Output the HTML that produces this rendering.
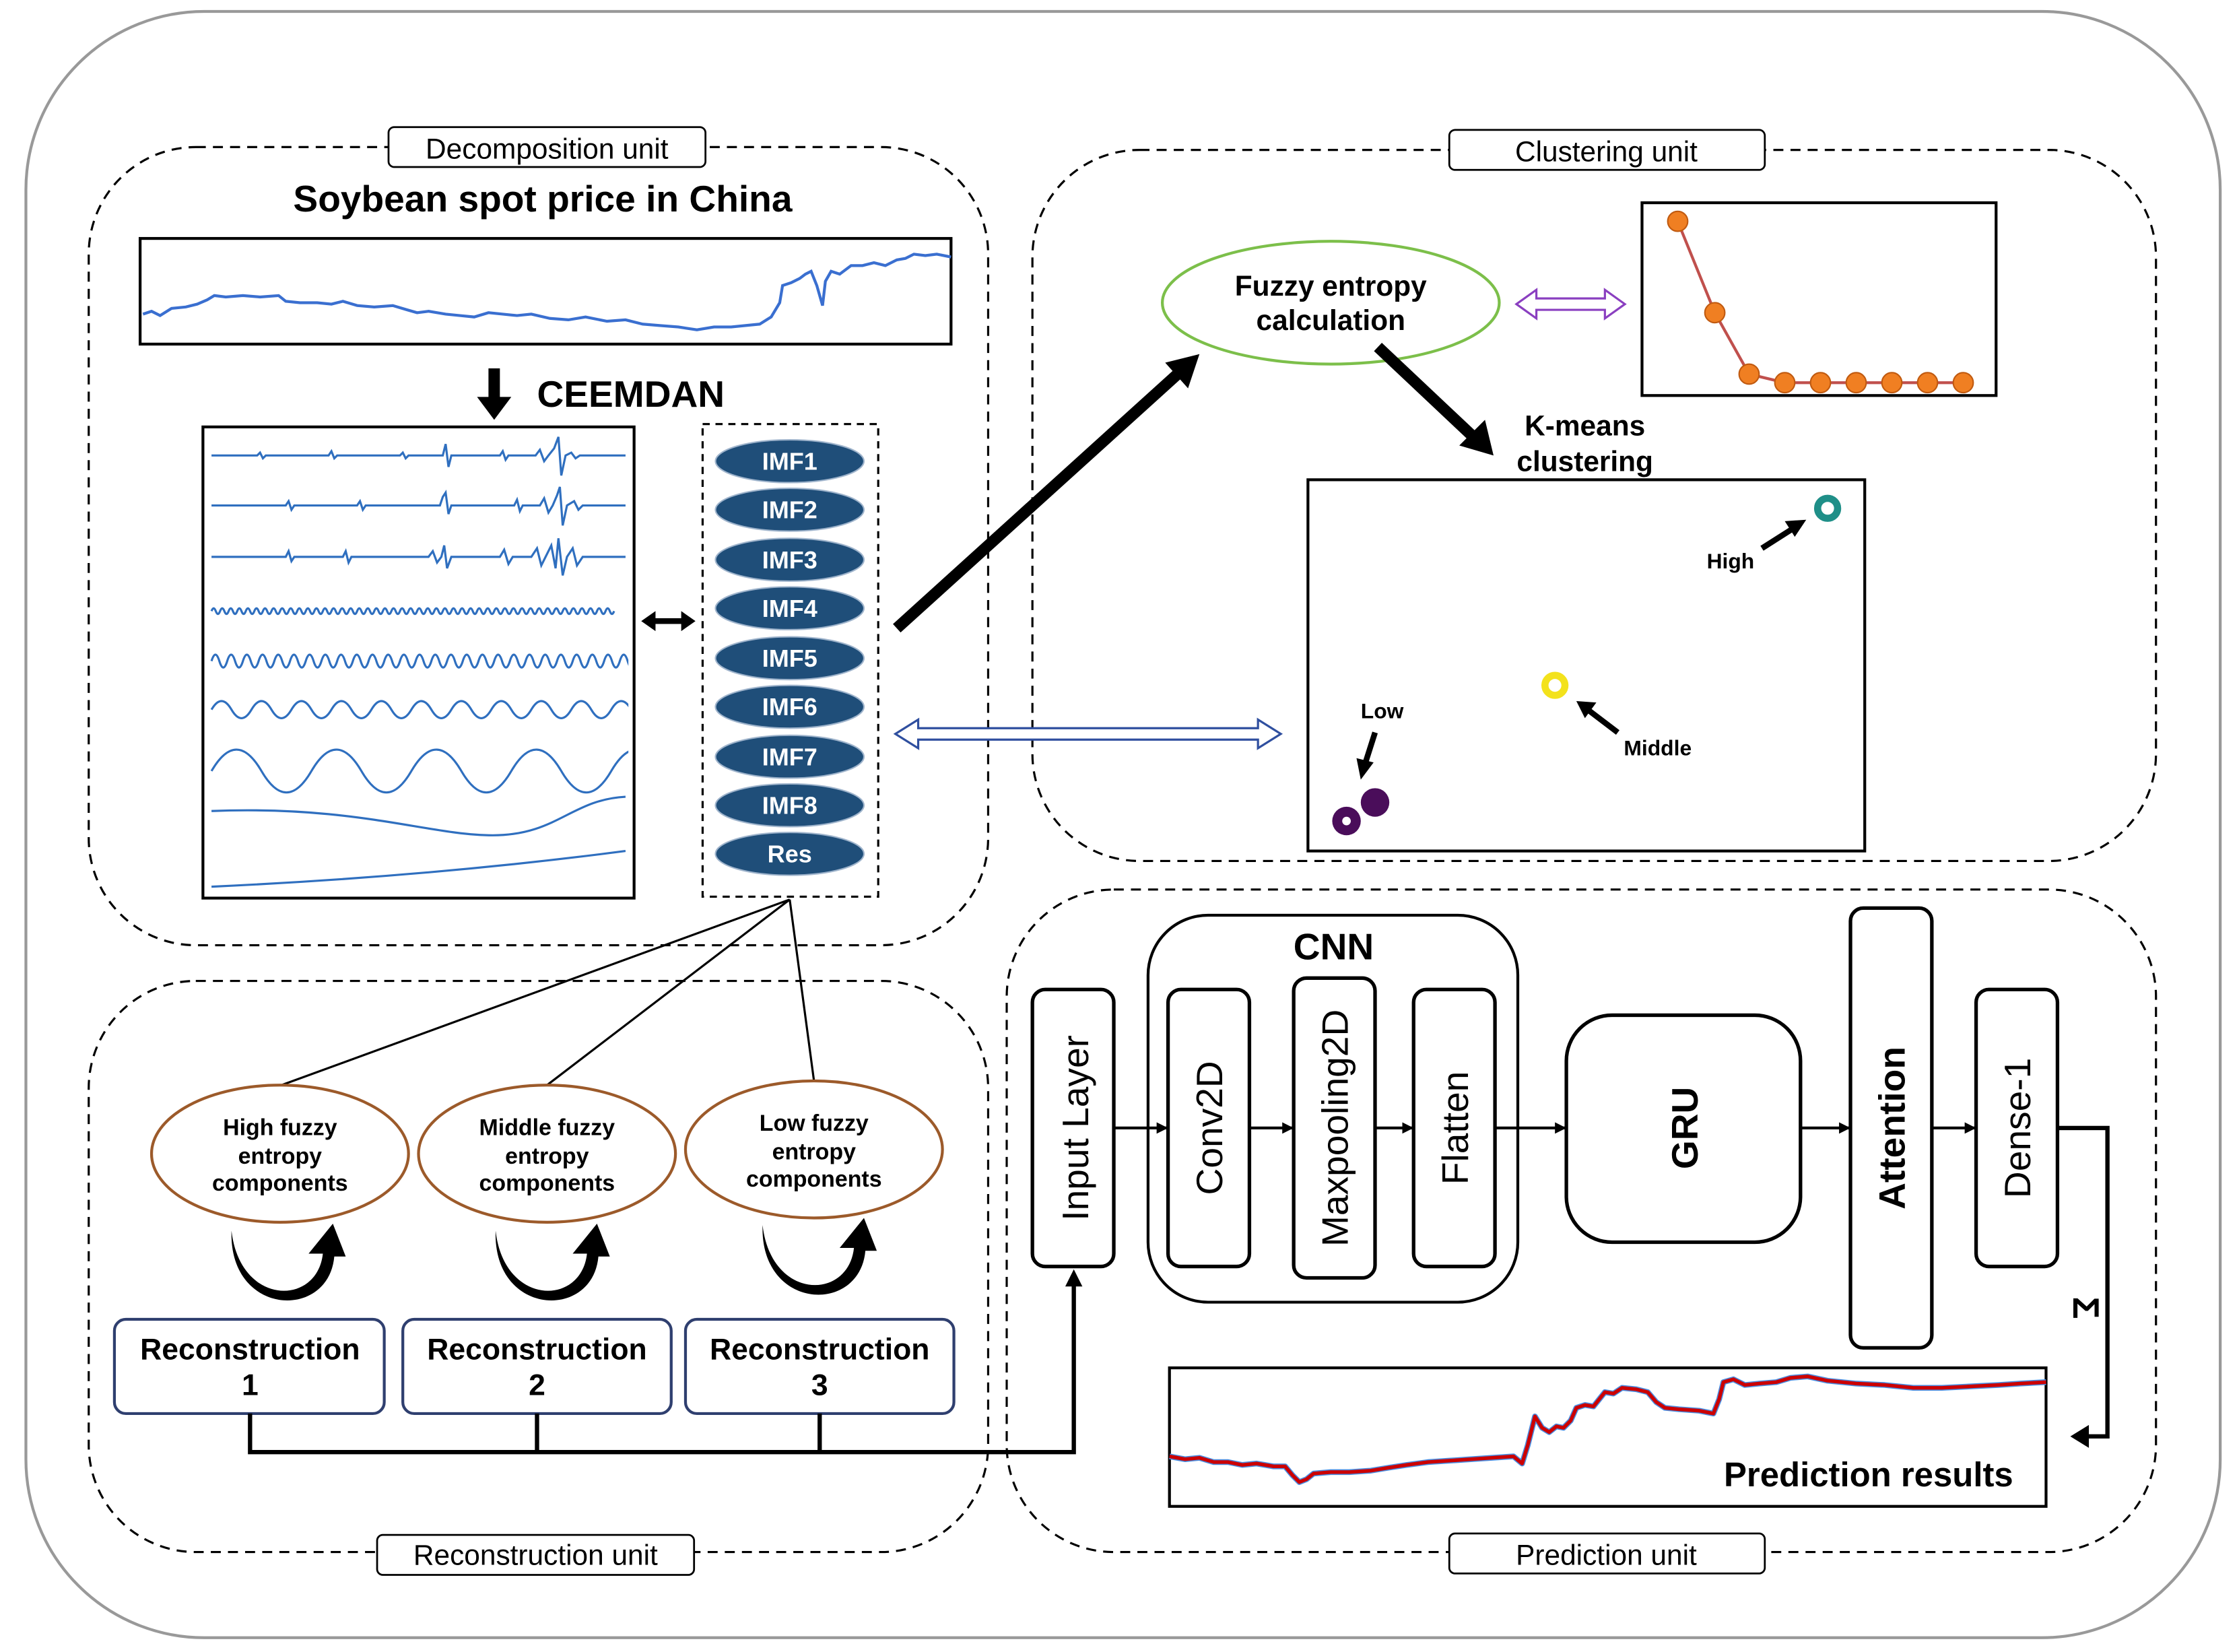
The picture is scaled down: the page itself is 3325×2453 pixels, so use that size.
<!DOCTYPE html>
<html><head><meta charset="utf-8"><style>
html,body{margin:0;padding:0;background:#fff;}
svg{display:block;}
text{font-family:"Liberation Sans","DejaVu Sans",sans-serif;}
</style></head><body>
<svg width="3325" height="2453" viewBox="0 0 1568 1157" xmlns="http://www.w3.org/2000/svg">
<defs>
<marker id="ah" markerWidth="8" markerHeight="8" refX="7" refY="4" orient="auto" markerUnits="userSpaceOnUse"><path d="M0,0 L8,4 L0,8 z" fill="#000"/></marker>
<clipPath id="ic"><rect x="146" y="300" width="294" height="328"/></clipPath>
</defs>
<rect x="18" y="8" width="1537" height="1139" rx="125" fill="#fff" stroke="#999" stroke-width="2"/>

<g fill="none" stroke="#000" stroke-width="1.5" stroke-dasharray="7,5">
<rect x="62" y="103" width="630" height="559" rx="75"/>
<rect x="723" y="105" width="787" height="498" rx="75"/>
<rect x="62" y="687" width="630" height="400" rx="75"/>
<rect x="705" y="623" width="805" height="464" rx="75"/>
</g>
<g stroke="#000" stroke-width="1.3" fill="#fff">
<rect x="272" y="89" width="222" height="28" rx="4"/>
<rect x="1015" y="91" width="221" height="28" rx="4"/>
<rect x="264" y="1075" width="222" height="28" rx="4"/>
<rect x="1015" y="1074" width="221" height="28" rx="4"/>
</g>
<g font-size="20" text-anchor="middle">
<text x="383" y="111">Decomposition unit</text>
<text x="1125" y="113">Clustering unit</text>
<text x="375" y="1096">Reconstruction unit</text>
<text x="1125" y="1096">Prediction unit</text>
</g>

<!-- decomposition -->
<text x="380" y="148" font-size="26" font-weight="bold" text-anchor="middle">Soybean spot price in China</text>
<rect x="98" y="167" width="568" height="74" fill="#fff" stroke="#000" stroke-width="2"/>
<polyline fill="none" stroke="#3a6fd0" stroke-width="2" points="100,220 106,218 112,221 120,216 130,215 138,213 145,210 150,207 158,208 170,207 182,208 195,207 200,211 210,212 222,212 232,213 240,211 250,214 262,215 275,214 285,217 292,219 300,218 312,220 322,221 332,222 342,219 352,220 362,221 372,220 385,223 398,224 410,222 425,225 438,224 450,227 462,228 475,229 488,231 500,229 512,229 522,228 532,227 540,222 546,212 548,200 554,198 560,195 564,192 568,190 572,200 576,214 578,197 582,190 588,192 596,186 604,186 612,184 620,186 628,182 634,181 640,178 648,179 656,178 666,180"/>
<path d="M346,258 L346,280" stroke="#000" stroke-width="8"/><path d="M334,278 L358,278 L346,294 z" fill="#000"/>
<text x="376" y="285" font-size="26" font-weight="bold">CEEMDAN</text>
<rect x="142" y="299" width="302" height="330" fill="#fff" stroke="#000" stroke-width="2"/>
<g fill="none" stroke="#2f6fbf" stroke-width="1.5" clip-path="url(#ic)">
<path d="M148,319 L180,319 L182,317 L184,321 L186,319 L230,319 L232,316 L234,321 L236,319 L280,319 L282,317 L284,321 L286,319 L310,319 L312,311 L314,327 L316,319 L350,319 L352,316 L354,322 L356,319 L375,319 L378,315 L381,323 L384,319 L388,314 L391,306 L393,333 L396,319 L400,317 L403,321 L406,319 L438,319"/>
<path d="M148,354 L200,354 L202,351 L204,357 L206,354 L250,354 L252,351 L254,357 L256,354 L308,354 L310,348 L312,345 L314,360 L316,354 L360,354 L362,350 L364,358 L366,354 L378,354 L381,349 L384,359 L387,354 L390,347 L392,341 L394,368 L397,354 L402,351 L405,357 L408,354 L438,354"/>
<path d="M148,390 L200,390 L202,386 L204,393 L206,390 L240,390 L242,386 L244,394 L246,390 L300,390 L303,386 L306,394 L309,390 L311,382 L313,398 L316,390 L350,390 L353,385 L356,395 L359,390 L372,390 L376,384 L379,396 L382,390 L386,382 L389,398 L391,377 L394,403 L397,390 L401,384 L404,396 L408,390 L438,390"/>
<path d="M148,428 q1.5,-4 3,0 t3,0 t3,0 t3,0 t3,0 t3,0 t3,0 t3,0 t3,0 t3,0 t3,0 t3,0 t3,0 t3,0 t3,0 t3,0 t3,0 t3,0 t3,0 t3,0 t3,0 t3,0 t3,0 t3,0 t3,0 t3,0 t3,0 t3,0 t3,0 t3,0 t3,0 t3,0 t3,0 t3,0 t3,0 t3,0 t3,0 t3,0 t3,0 t3,0 t3,0 t3,0 t3,0 t3,0 t3,0 t3,0 t3,0 t3,0 t3,0 t3,0 t3,0 t3,0 t3,0 t3,0 t3,0 t3,0 t3,0 t3,0 t3,0 t3,0 t3,0 t3,0 t3,0 t3,0 t3,0 t3,0 t3,0 t3,0 t3,0 t3,0 t3,0 t3,0 t3,0 t3,0 t3,0 t3,0 t3,0 t3,0 t3,0 t3,0 t3,0 t3,0 t3,0 t3,0 t3,0 t3,0 t3,0 t3,0 t3,0 t3,0 t3,0 t3,0 t3,0 t3,0"/>
<path d="M148,463 q2.75,-9 5.5,0 t5.5,0 t5.5,0 t5.5,0 t5.5,0 t5.5,0 t5.5,0 t5.5,0 t5.5,0 t5.5,0 t5.5,0 t5.5,0 t5.5,0 t5.5,0 t5.5,0 t5.5,0 t5.5,0 t5.5,0 t5.5,0 t5.5,0 t5.5,0 t5.5,0 t5.5,0 t5.5,0 t5.5,0 t5.5,0 t5.5,0 t5.5,0 t5.5,0 t5.5,0 t5.5,0 t5.5,0 t5.5,0 t5.5,0 t5.5,0 t5.5,0 t5.5,0 t5.5,0 t5.5,0 t5.5,0 t5.5,0 t5.5,0 t5.5,0 t5.5,0 t5.5,0 t5.5,0 t5.5,0 t5.5,0 t5.5,0 t5.5,0 t5.5,0 t5.5,0 t5.5,0 t5.5,0 t5.5,0"/>
<path d="M148,497 q7,-12 14,0 t14,0 t14,0 t14,0 t14,0 t14,0 t14,0 t14,0 t14,0 t14,0 t14,0 t14,0 t14,0 t14,0 t14,0 t14,0 t14,0 t14,0 t14,0 t14,0 t14,0 t14,0"/>
<path d="M148,540 q17.5,-30 35,0 t35,0 t35,0 t35,0 t35,0 t35,0 t35,0 t35,0 t35,0"/>
<path d="M148,568 C250,564 300,585 345,585 C390,585 400,560 438,558"/>
<path d="M148,621 Q300,614 438,596"/>
</g>
<path d="M455,435 L481,435" stroke="#000" stroke-width="4"/>
<path d="M449,435 L459,428 L459,442 z M487,435 L477,428 L477,442 z" fill="#000"/>
<rect x="492" y="297" width="123" height="331" fill="none" stroke="#000" stroke-width="1.5" stroke-dasharray="5,4"/>
<g fill="#1f4e79" stroke="#9fb4cc">
<ellipse cx="553" cy="323" rx="52" ry="15"/><ellipse cx="553" cy="357" rx="52" ry="15"/><ellipse cx="553" cy="392" rx="52" ry="15"/>
<ellipse cx="553" cy="426" rx="52" ry="15"/><ellipse cx="553" cy="461" rx="52" ry="15"/><ellipse cx="553" cy="495" rx="52" ry="15"/>
<ellipse cx="553" cy="530" rx="52" ry="15"/><ellipse cx="553" cy="564" rx="52" ry="15"/><ellipse cx="553" cy="598" rx="52" ry="15"/>
</g>
<g fill="#fff" font-size="17" font-weight="bold" text-anchor="middle">
<text x="553" y="329">IMF1</text><text x="553" y="363">IMF2</text><text x="553" y="398">IMF3</text>
<text x="553" y="432">IMF4</text><text x="553" y="467">IMF5</text><text x="553" y="501">IMF6</text>
<text x="553" y="536">IMF7</text><text x="553" y="570">IMF8</text><text x="553" y="604">Res</text>
</g>

<!-- clustering -->
<ellipse cx="932" cy="212" rx="118" ry="43" fill="#fff" stroke="#7cbf4a" stroke-width="2"/>
<text x="932" y="207" font-size="20" font-weight="bold" text-anchor="middle">Fuzzy entropy</text>
<text x="932" y="231" font-size="20" font-weight="bold" text-anchor="middle">calculation</text>
<path d="M1062,213 L1076,203 L1076,209 L1124,209 L1124,203 L1138,213 L1124,223 L1124,217 L1076,217 L1076,223 z" fill="#fff" stroke="#8a3fc0" stroke-width="1.5"/>
<rect x="1150" y="142" width="248" height="135" fill="#fff" stroke="#000" stroke-width="2"/>
<polyline points="1175,155 1201,219 1225,262 1250,268 1275,268 1300,268 1325,268 1350,268 1375,268" fill="none" stroke="#c0504d" stroke-width="2"/>
<g fill="#f07f22" stroke="#c05a10"><circle cx="1175" cy="155" r="7"/><circle cx="1201" cy="219" r="7"/><circle cx="1225" cy="262" r="7"/><circle cx="1250" cy="268" r="7"/><circle cx="1275" cy="268" r="7"/><circle cx="1300" cy="268" r="7"/><circle cx="1325" cy="268" r="7"/><circle cx="1350" cy="268" r="7"/><circle cx="1375" cy="268" r="7"/></g>
<line x1="628" y1="440" x2="828" y2="259" stroke="#000" stroke-width="8"/>
<path d="M840,248 L832,272 L816,254 z" fill="#000"/>
<line x1="965" y1="243" x2="1034" y2="308" stroke="#000" stroke-width="8"/>
<path d="M1046,319 L1022,312 L1040,294 z" fill="#000"/>
<text x="1110" y="305" font-size="20" font-weight="bold" text-anchor="middle">K-means</text>
<text x="1110" y="330" font-size="20" font-weight="bold" text-anchor="middle">clustering</text>
<rect x="916" y="336" width="390" height="260" fill="#fff" stroke="#000" stroke-width="2"/>
<circle cx="1280" cy="356" r="7" fill="#fff" stroke="#1f8f88" stroke-width="5"/>
<circle cx="1089" cy="480" r="7" fill="#fff" stroke="#f3e21c" stroke-width="5"/>
<circle cx="963" cy="562" r="10" fill="#4a0d5a"/>
<circle cx="943" cy="575" r="10" fill="#4a0d5a"/><circle cx="943" cy="575" r="3" fill="#fff"/>
<line x1="1234" y1="384" x2="1256" y2="370" stroke="#000" stroke-width="4"/><path d="M1265,364 L1250,365 L1257,376 z" fill="#000"/>
<text x="1212" y="398" font-size="15" font-weight="bold" text-anchor="middle">High</text>
<line x1="1133" y1="513" x2="1112" y2="497" stroke="#000" stroke-width="4"/><path d="M1104,491 L1118,492 L1110,503 z" fill="#000"/>
<text x="1161" y="529" font-size="15" font-weight="bold" text-anchor="middle">Middle</text>
<line x1="963" y1="513" x2="956" y2="535" stroke="#000" stroke-width="4"/><path d="M953,546 L950,531 L962,534 z" fill="#000"/>
<text x="968" y="503" font-size="15" font-weight="bold" text-anchor="middle">Low</text>
<path d="M627,514 L643,504 L643,510 L881,510 L881,504 L897,514 L881,524 L881,518 L643,518 L643,524 z" fill="#fff" stroke="#2f4f9f" stroke-width="1.5"/>

<!-- reconstruction -->
<g stroke="#000" stroke-width="1.5"><line x1="553" y1="630" x2="197" y2="760"/><line x1="553" y1="630" x2="383" y2="760"/><line x1="553" y1="630" x2="570" y2="757"/></g>
<g fill="#fff" stroke="#9c5a2a" stroke-width="2">
<ellipse cx="196" cy="808" rx="90" ry="48"/><ellipse cx="383" cy="808" rx="90" ry="48"/><ellipse cx="570" cy="805" rx="90" ry="48"/>
</g>
<g font-size="16" font-weight="bold" text-anchor="middle">
<text x="196" y="795">High fuzzy</text><text x="196" y="815">entropy</text><text x="196" y="834">components</text>
<text x="383" y="795">Middle fuzzy</text><text x="383" y="815">entropy</text><text x="383" y="834">components</text>
<text x="570" y="792">Low fuzzy</text><text x="570" y="812">entropy</text><text x="570" y="831">components</text>
</g>
<g fill="#000">
<path d="M162,862 C168,915 222,915 226,878 L216,878 L233,857 L242,880 L234,880 C230,925 160,922 162,862 z"/>
<path d="M347,862 C353,915 407,915 411,878 L401,878 L418,857 L427,880 L419,880 C415,925 345,922 347,862 z"/>
<path d="M534,858 C540,911 594,911 598,874 L588,874 L605,853 L614,876 L606,876 C602,921 532,918 534,858 z"/>
</g>
<g fill="#fff" stroke="#2f3f6f" stroke-width="2">
<rect x="80" y="924" width="189" height="66" rx="8"/><rect x="282" y="924" width="188" height="66" rx="8"/><rect x="480" y="924" width="188" height="66" rx="8"/>
</g>
<g font-size="21" font-weight="bold" text-anchor="middle">
<text x="175" y="952">Reconstruction</text><text x="175" y="977">1</text>
<text x="376" y="952">Reconstruction</text><text x="376" y="977">2</text>
<text x="574" y="952">Reconstruction</text><text x="574" y="977">3</text>
</g>
<g stroke="#000" stroke-width="3" fill="none">
<polyline points="175,990 175,1017 752,1017 752,900"/>
<line x1="376" y1="990" x2="376" y2="1017"/><line x1="574" y1="990" x2="574" y2="1017"/>
</g>
<path d="M752,889 L746,901 L758,901 z" fill="#000"/>

<!-- prediction -->
<rect x="804" y="641" width="259" height="271" rx="42" fill="#fff" stroke="#000" stroke-width="2"/>
<text x="934" y="672" font-size="26" font-weight="bold" text-anchor="middle">CNN</text>
<g fill="#fff" stroke="#000" stroke-width="2.5">
<rect x="723" y="693" width="57" height="194" rx="9"/>
<rect x="818" y="693" width="57" height="194" rx="9"/>
<rect x="906" y="685" width="57" height="210" rx="9"/>
<rect x="990" y="693" width="57" height="194" rx="9"/>
<rect x="1097" y="711" width="164" height="159" rx="32"/>
<rect x="1296" y="636" width="57" height="308" rx="9"/>
<rect x="1384" y="693" width="57" height="194" rx="9"/>
</g>
<g font-size="26" text-anchor="middle">
<text transform="translate(762,790) rotate(-90)">Input Layer</text>
<text transform="translate(856,790) rotate(-90)">Conv2D</text>
<text transform="translate(944,790) rotate(-90)">Maxpooling2D</text>
<text transform="translate(1028,790) rotate(-90)">Flatten</text>
<text transform="translate(1189,790) rotate(-90)" font-weight="bold">GRU</text>
<text transform="translate(1334,790) rotate(-90)" font-weight="bold">Attention</text>
<text transform="translate(1422,790) rotate(-90)">Dense-1</text>
</g>
<g stroke="#000" stroke-width="2" marker-end="url(#ah)">
<line x1="780" y1="790" x2="817" y2="790"/><line x1="875" y1="790" x2="905" y2="790"/><line x1="963" y1="790" x2="989" y2="790"/>
<line x1="1047" y1="790" x2="1096" y2="790"/><line x1="1261" y1="790" x2="1295" y2="790"/><line x1="1353" y1="790" x2="1383" y2="790"/>
</g>
<polyline points="1441,790 1476,790 1476,1006 1462,1006" fill="none" stroke="#000" stroke-width="3"/>
<path d="M1450,1006 L1463,998 L1463,1014 z" fill="#000"/>
<text transform="translate(1452,916) rotate(90)" font-size="26" font-weight="bold" text-anchor="middle" font-family="DejaVu Sans">Σ</text>
<rect x="819" y="958" width="614" height="97" fill="#fff" stroke="#000" stroke-width="2"/>
<g fill="none" stroke-linejoin="round">
<polyline stroke="#4a8de0" stroke-width="4" points="819,1020 830,1022 840,1021 850,1024 860,1024 870,1026 880,1025 892,1027 900,1027 905,1033 910,1038 915,1036 920,1032 932,1031 945,1031 960,1030 972,1028 985,1026 1000,1024 1015,1023 1030,1022 1045,1021 1060,1020 1066,1025 1070,1012 1075,992 1080,1000 1085,1003 1090,999 1095,1000 1100,995 1104,986 1110,984 1116,985 1120,980 1124,975 1130,976 1136,972 1146,973 1154,975 1160,982 1166,986 1176,987 1190,988 1200,990 1204,980 1207,968 1214,966 1222,970 1232,969 1244,968 1254,965 1266,964 1280,967 1300,969 1320,970 1340,972 1360,972 1380,971 1400,970 1415,969 1433,968"/>
<polyline stroke="#cc0000" stroke-width="2.5" points="819,1020 830,1022 840,1021 850,1024 860,1024 870,1026 880,1025 892,1027 900,1027 905,1033 910,1038 915,1036 920,1032 932,1031 945,1031 960,1030 972,1028 985,1026 1000,1024 1015,1023 1030,1022 1045,1021 1060,1020 1066,1025 1070,1012 1075,992 1080,1000 1085,1003 1090,999 1095,1000 1100,995 1104,986 1110,984 1116,985 1120,980 1124,975 1130,976 1136,972 1146,973 1154,975 1160,982 1166,986 1176,987 1190,988 1200,990 1204,980 1207,968 1214,966 1222,970 1232,969 1244,968 1254,965 1266,964 1280,967 1300,969 1320,970 1340,972 1360,972 1380,971 1400,970 1415,969 1433,968"/>
</g>
<text x="1410" y="1041" font-size="24" font-weight="bold" text-anchor="end">Prediction results</text>
</svg>
</body></html>
